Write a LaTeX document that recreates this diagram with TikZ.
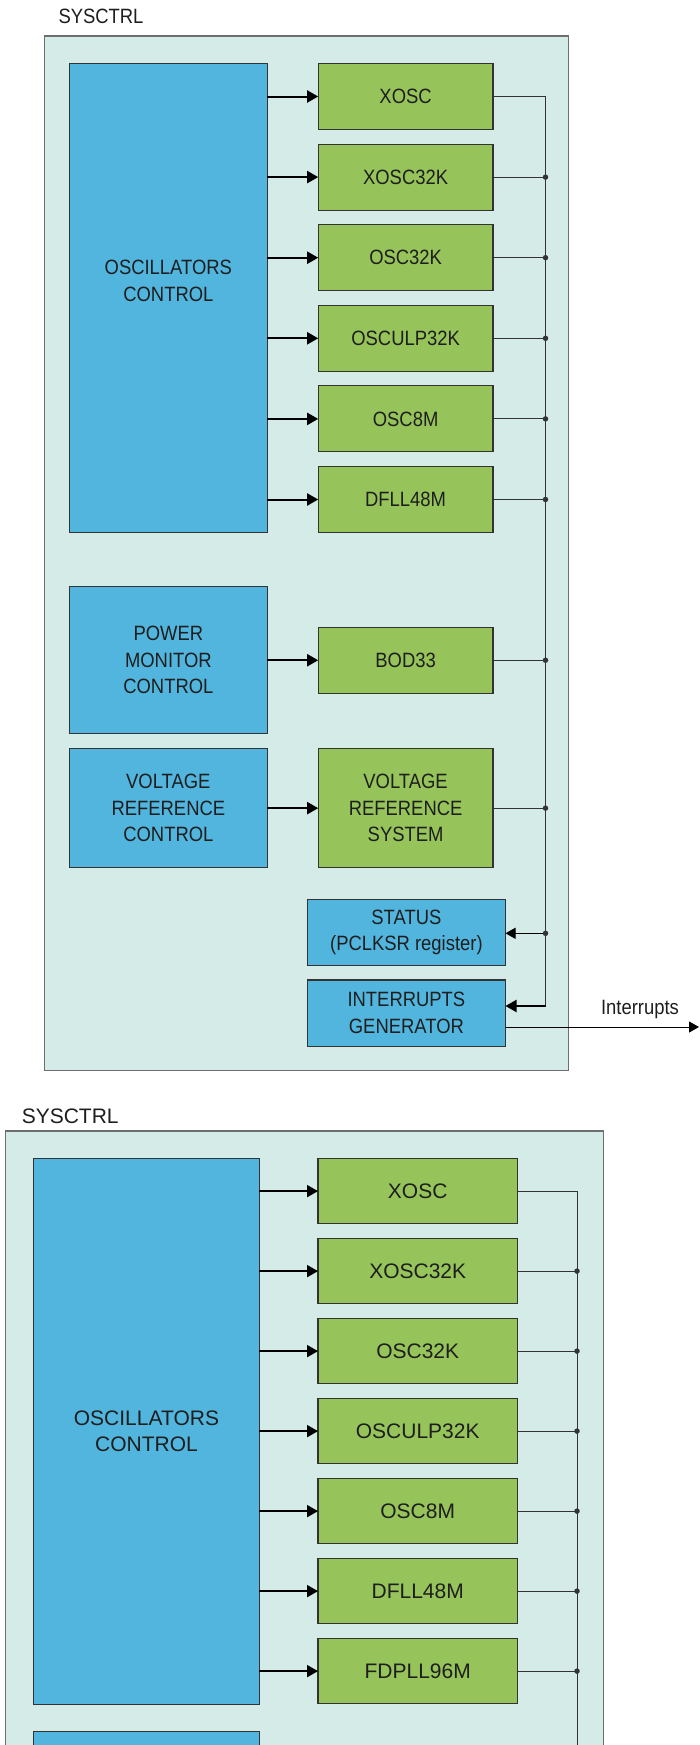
\documentclass[tikz,border=0pt]{standalone}
\usepackage{fontspec}
\setmainfont{Liberation Sans}
\newfontfamily\nf[FakeStretch=0.89]{Liberation Sans}
\usetikzlibrary{arrows.meta}
\definecolor{cbg}{HTML}{D5EBE8}
\definecolor{cblue}{HTML}{51B5DE}
\definecolor{cgreen}{HTML}{96C45A}
\definecolor{cframe}{HTML}{6E6E6E}
\definecolor{cline}{HTML}{333333}
\definecolor{ctext}{HTML}{1E1E1E}
\tikzset{
  box/.style={draw=cline, line width=1.1pt, inner sep=0pt, outer sep=0pt, align=center, text=ctext},
  blk/.style={box, fill=cblue},
  grn/.style={box, fill=cgreen},
  topfont/.style={font=\nf\fontsize{20.7}{26.5}\selectfont},
  botfont/.style={font=\fontsize{21}{26}\selectfont},
  frame/.style={draw=cframe, fill=cbg, line width=1.5pt},
  arr/.style={line width=2pt, black, -{Triangle[length=11pt,width=12pt]}},
  thinarr/.style={line width=1pt, black, -{Triangle[length=10pt,width=11pt]}},
  wire/.style={line width=1pt, cline},
  jdot/.style={circle, fill=cline, inner sep=0pt, minimum size=5.5pt},
}
\begin{document}
\begin{tikzpicture}[x=1pt,y=-1pt]
\useasboundingbox (0,0) rectangle (700,1745);
\clip (0,0) rectangle (700,1745);

% ================= TOP DIAGRAM =================
\node[topfont, text=ctext] (t1) at (101,16.6) {SYSCTRL};
\draw[frame] (44.7,35.9) rectangle (568.5,1070.7);

\node[blk, minimum width=198.1pt, minimum height=469.2pt] (ctl) at (168.35,298.1) {};
\node[topfont, text=ctext, align=center] (ctltext) at (168.35,281) {OSCILLATORS\\CONTROL};

\foreach \n/\t/\y in {a/XOSC/96.5, b/XOSC32K/177.1, c/OSC32K/257.7, d/OSCULP32K/338.3, e/OSC8M/418.9, f/DFLL48M/499.5}{
  \node[grn, topfont, minimum width=174.8pt, minimum height=66pt] (g\n) at (405.6,\y) {\t};
  \draw[arr] (ctl.east |- g\n) -- (g\n.west);
}

\node[blk, topfont, minimum width=198.1pt, minimum height=146.7pt] (pm) at (168.35,660.25) {POWER\\MONITOR\\CONTROL};
\node[grn, topfont, minimum width=174.8pt, minimum height=66.1pt] (bod) at (405.6,660.25) {BOD33};
\draw[arr] (pm.east |- bod) -- (bod.west);

\node[blk, topfont, minimum width=198.1pt, minimum height=119.5pt] (vrc) at (168.35,808.15) {VOLTAGE\\REFERENCE\\CONTROL};
\node[grn, topfont, minimum width=174.8pt, minimum height=119.5pt] (vrs) at (405.6,808.15) {VOLTAGE\\REFERENCE\\SYSTEM};
\draw[arr] (vrc.east) -- (vrs.west);

\node[blk, topfont, minimum width=198.2pt, minimum height=66.2pt] (st) at (406.4,932.6) {STATUS\\(PCLKSR register)};
\node[blk, topfont, minimum width=198.2pt, minimum height=66.2pt] (ig) at (406.4,1013.1) {INTERRUPTS\\GENERATOR};

\coordinate (bustop) at (545.5,96.5);
\coordinate (busend) at (545.5,1006);
\draw[wire] (ga.east) -- (bustop) -- (busend);
\foreach \n in {gb,gc,gd,ge,gf,bod,vrs}{
  \draw[wire] (\n.east) -- (\n.east -| bustop);
  \node[jdot] at (\n.east -| bustop) {};
}
\coordinate (stj) at (545.5,933.3);
\draw[thinarr] (stj) -- (st.east |- stj);
\node[jdot] at (stj) {};
\draw[arr] (busend) -- (ig.east |- busend);

\coordinate (outs) at (505.5,1027);
\coordinate (oute) at (699,1027);
\draw[thinarr] (ig.east |- outs) -- (oute);
\node[topfont, text=ctext, anchor=base] (intl) at (640,1014) {Interrupts};

% ================= BOTTOM DIAGRAM =================
\node[botfont, text=ctext] (t2) at (70.2,1116.5) {SYSCTRL};
\draw[frame] (5.4,1130.9) rectangle (603.7,1900);

\node[blk, botfont, minimum width=225.9pt, minimum height=546.3pt] (ctlb) at (146.45,1431.55) {OSCILLATORS\\CONTROL};

\foreach \n/\t/\y in {a/XOSC/1191.1, b/XOSC32K/1271.1, c/OSC32K/1351.1, d/OSCULP32K/1431.1, e/OSC8M/1511.1, f/DFLL48M/1591.1, g/FDPLL96M/1671.1}{
  \node[grn, botfont, minimum width=199.4pt, minimum height=65.4pt] (h\n) at (417.7,\y) {\t};
  \draw[arr] (ctlb.east |- h\n) -- (h\n.west);
}
\node[blk, minimum width=225.9pt, minimum height=140pt] (pmb) at (146.45,1801.4) {};

\coordinate (bustopb) at (577,1191.1);
\coordinate (busendb) at (577,1900);
\draw[wire] (ha.east) -- (bustopb) -- (busendb);
\foreach \n in {hb,hc,hd,he,hf,hg}{
  \draw[wire] (\n.east) -- (\n.east -| bustopb);
  \node[jdot] at (\n.east -| bustopb) {};
}
\end{tikzpicture}
\end{document}
